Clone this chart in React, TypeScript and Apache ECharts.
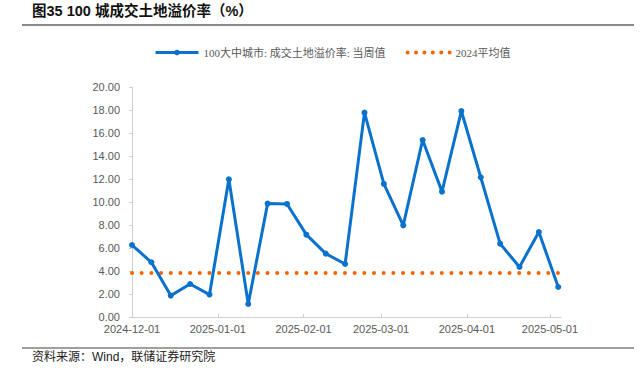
import React, { useEffect, useRef } from "react";
import * as echarts from "echarts";

const weekDates: string[] = [
  "2024-12-01", "2024-12-08", "2024-12-15", "2024-12-22", "2024-12-29",
  "2025-01-05", "2025-01-12", "2025-01-19", "2025-01-26",
  "2025-02-02", "2025-02-09", "2025-02-16", "2025-02-23",
  "2025-03-02", "2025-03-09", "2025-03-16", "2025-03-23", "2025-03-30",
  "2025-04-06", "2025-04-13", "2025-04-20", "2025-04-27", "2025-05-04",
];

const weeklyPremium: number[] = [
  6.26, 4.76, 1.86, 2.87, 1.95, 11.97, 1.13, 9.86, 9.83, 7.16, 5.51, 4.61,
  17.77, 11.57, 7.97, 15.39, 10.9, 17.91, 12.15, 6.38, 4.35, 7.39, 2.61,
];

const avg2024: number[] = [
  3.83, 3.83, 3.83, 3.83, 3.83, 3.83, 3.83, 3.83, 3.83, 3.83, 3.83, 3.83,
  3.83, 3.83, 3.83, 3.83, 3.83, 3.83, 3.83, 3.83, 3.83, 3.83, 3.83,
];

const monthTicks: string[] = [
  "2024-12-01", "2025-01-01", "2025-02-01", "2025-03-01", "2025-04-01", "2025-05-01",
];

const axisMin = "2024-12-01";
const axisMax = "2025-05-05";

const seriesNames = ["100大中城市: 成交土地溢价率: 当周值", "2024平均值"];
const titleText = "图35 100 城成交土地溢价率（%）";
const sourceText = "资料来源：Wind，联储证券研究院";

const ts = (s: string) => {
  const [y, m, d] = s.split("-").map(Number);
  return Date.UTC(y, m - 1, d);
};
const fmt = (v: number) => {
  const d = new Date(v);
  const p = (n: number) => String(n).padStart(2, "0");
  return `${d.getUTCFullYear()}-${p(d.getUTCMonth() + 1)}-${p(d.getUTCDate())}`;
};

export default function App() {
  const ref = useRef<HTMLDivElement>(null);
  useEffect(() => {
    if (!ref.current) return;
    const chart = echarts.init(ref.current, undefined, { renderer: "svg" });
    const blue = "#0a72cc";
    const orange = "#fa6400";
    const axisColor = "#cfcfcf";
    const labelColor = "#595959";
    const tickVals = monthTicks.map(ts);
    chart.setOption({
      animation: false,
      backgroundColor: "#ffffff",
      grid: { left: 132, right: 80, top: 87, bottom: 59, containLabel: false },
      legend: {
        left: 149,
        top: 42,
        itemWidth: 43,
        itemHeight: 7,
        itemGap: 20,
        textStyle: {
          fontSize: 11,
          color: labelColor,
          fontFamily: "'Liberation Serif', 'Noto Sans CJK SC'",
        },
        data: [
          {
            name: seriesNames[0],
            itemStyle: { color: blue },
            lineStyle: { color: blue, width: 3 },
          },
          {
            name: seriesNames[1],
            itemStyle: { color: "rgba(0,0,0,0)", borderWidth: 0 },
            lineStyle: { color: orange, width: 4, type: [0.01, 8.4], cap: "round" },
          },
        ],
      },
      xAxis: {
        type: "value",
        min: ts(axisMin),
        max: ts(axisMax),
        splitLine: { show: false },
        axisLine: { show: true, lineStyle: { color: axisColor, width: 1 } },
        axisTick: {
          show: true,
          inside: true,
          length: 3,
          customValues: tickVals,
          lineStyle: { color: axisColor },
        },
        axisLabel: {
          customValues: tickVals,
          formatter: (v: number) => fmt(v),
          fontSize: 11,
          color: labelColor,
          margin: 6,
          fontFamily: "'Liberation Sans', Arial, sans-serif",
        },
      },
      yAxis: {
        type: "value",
        min: 0,
        max: 20,
        interval: 2,
        splitLine: { show: false },
        axisLine: { show: true, lineStyle: { color: axisColor, width: 1 } },
        axisTick: { show: true, inside: false, length: 3, lineStyle: { color: axisColor } },
        axisLabel: {
          formatter: (v: number) => v.toFixed(2),
          fontSize: 11,
          color: labelColor,
          margin: 12,
          fontFamily: "'Liberation Sans', Arial, sans-serif",
        },
      },
      series: [
        {
          name: seriesNames[0],
          type: "line",
          data: weekDates.map((d, i) => [ts(d), weeklyPremium[i]]),
          symbol: "circle",
          symbolSize: 6,
          showSymbol: true,
          itemStyle: { color: blue },
          lineStyle: { color: blue, width: 3 },
          z: 3,
        },
        {
          name: seriesNames[1],
          type: "line",
          data: weekDates.map((d, i) => [ts(d), avg2024[i]]),
          symbol: "none",
          itemStyle: { color: orange },
          lineStyle: { color: orange, width: 4, type: [0.01, 9.67], cap: "round" },
          z: 2,
        },
      ],
      graphic: [
        {
          type: "text",
          left: 32,
          top: 4,
          style: {
            text: titleText,
            fontSize: 14.5,
            fontWeight: "bold",
            fill: "#111111",
            fontFamily: "'Liberation Sans', 'Noto Sans CJK SC'",
          },
        },
        {
          type: "line",
          shape: { x1: 22, y1: 25, x2: 634, y2: 25 },
          style: { stroke: "#8a8a8a", lineWidth: 2 },
        },
        {
          type: "line",
          shape: { x1: 22, y1: 348, x2: 634, y2: 348 },
          style: { stroke: "#404040", lineWidth: 1 },
        },
        {
          type: "text",
          left: 32,
          top: 351,
          style: {
            text: sourceText,
            fontSize: 12,
            fill: "#222222",
            fontFamily: "'Liberation Sans', 'Noto Sans CJK SC'",
          },
        },
      ],
    });
    return () => chart.dispose();
  }, []);
  return (
    <div
      ref={ref}
      style={{ position: "fixed", left: 0, top: 0, width: 641, height: 376, background: "#fff" }}
    />
  );
}
